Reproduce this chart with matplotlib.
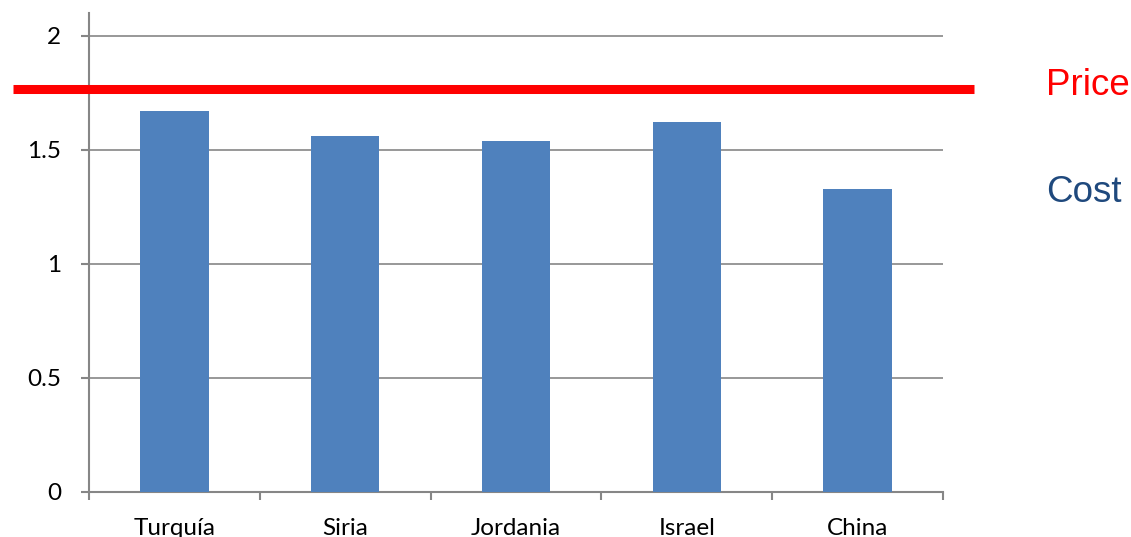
import matplotlib.pyplot as plt
import numpy as np

paises = ["Turquía", "Siria", "Jordania", "Israel", "China"]
costes = [1.67, 1.56, 1.54, 1.62, 1.33]
precio = 1.765

gris = "#868686"
azul = "#4F81BD"

fig = plt.figure(figsize=(11.31, 5.37), dpi=100)
ax = fig.add_axes([0.0787, 0.0838, 0.755, 0.892])

x = np.arange(len(paises))
ax.bar(x, costes, width=0.4, color=azul, zorder=3)

ax.set_xlim(-0.5, len(paises) - 0.5)
ax.set_ylim(0, 2.1)
ax.set_yticks([0, 0.5, 1, 1.5, 2])
ax.set_yticklabels(["0", "0.5", "1", "1.5", "2"])
ax.set_xticks(x)
ax.set_xticklabels(paises)
ax.set_xticks(np.arange(-0.5, len(paises)), minor=True)

ax.grid(axis="y", color=gris, linewidth=1.2, zorder=0)
for lado in ["top", "right"]:
    ax.spines[lado].set_visible(False)
for lado in ["left", "bottom"]:
    ax.spines[lado].set_color(gris)
    ax.spines[lado].set_linewidth(1.5)

ax.tick_params(axis="y", length=6, width=1.5, color=gris, pad=14,
               labelsize=17.5, labelfontfamily="Lato")
ax.tick_params(axis="x", which="major", length=0, pad=19,
               labelsize=17.5, labelfontfamily="Lato")
ax.tick_params(axis="x", which="minor", length=6, width=1.5, color=gris)

# linea del precio, sale por fuera de los ejes
ax.plot([-0.089, 1.036], [precio, precio], color="#FF0000", linewidth=6.5,
        solid_capstyle="butt", transform=ax.get_yaxis_transform(),
        clip_on=False, zorder=4)

fig.text(0.925, 1 - 86 / 537, "Price", color="#FF0000", fontsize=26.5,
         family="Liberation Sans", va="center", ha="left")
fig.text(0.925, 1 - 192 / 537, "Cost", color="#1F497D", fontsize=26.5,
         family="Liberation Sans", va="center", ha="left")

fig.savefig("out.png", dpi=100)
